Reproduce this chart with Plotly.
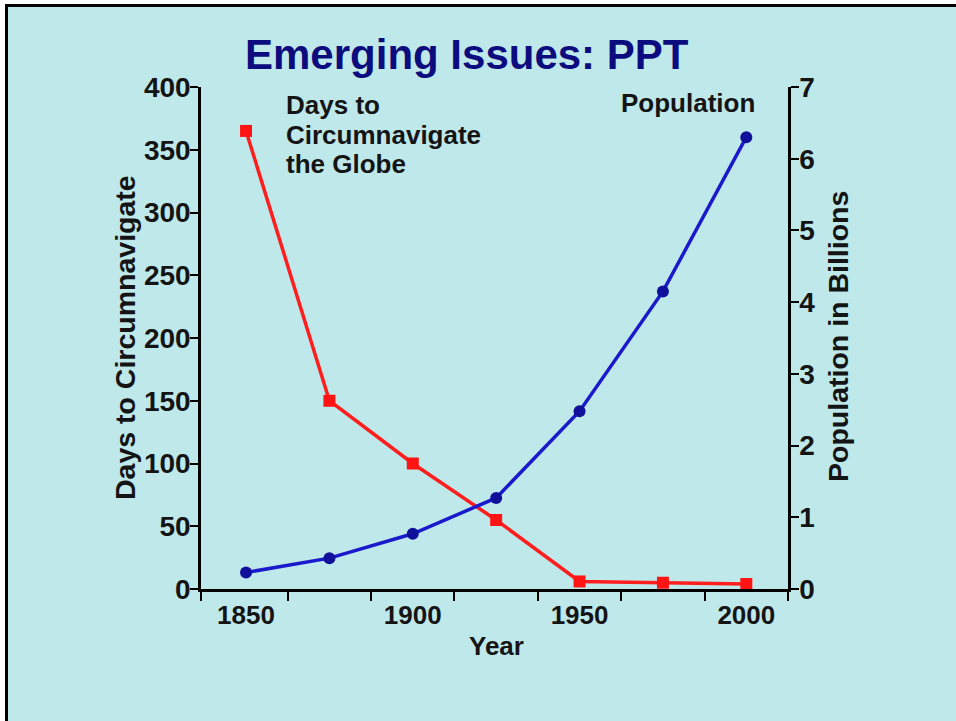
import plotly.graph_objects as go

# ---- data ----
years = [1850, 1875, 1900, 1925, 1950, 1975, 2000]
days_to_circumnavigate = [365, 150, 100, 55, 6, 5, 4]
population_billions = [0.23, 0.43, 0.77, 1.27, 2.48, 4.15, 6.30]
x_label_years = [1850, 1900, 1950, 2000]
x_tick_marks = [1836.5, 1862.5, 1887.5, 1912.5, 1937.5, 1962.5, 1987.5, 2012.5]
days_ticks = [0, 50, 100, 150, 200, 250, 300, 350, 400]
pop_ticks = [0, 1, 2, 3, 4, 5, 6, 7]

FONT = "Liberation Sans, Arial, Helvetica, sans-serif"
INK = "#141414"
BG = "#bfe8ea"

W, H = 956, 721
L, R, T, B = 201, 788, 87, 589  # plot area in pixels


def xp(px):
    return (px - L) / (R - L)


def yp(py):
    return (B - py) / (B - T)


fig = go.Figure()
fig.add_trace(go.Scatter(
    x=years, y=days_to_circumnavigate, mode="lines+markers",
    line=dict(color="#ff1e1e", width=3.5),
    marker=dict(symbol="square", size=12, color="#ff1414"),
    yaxis="y", showlegend=False, cliponaxis=False,
))
fig.add_trace(go.Scatter(
    x=years, y=population_billions, mode="lines+markers",
    line=dict(color="#1a1acc", width=3.5),
    marker=dict(symbol="circle", size=12, color="#10109a"),
    yaxis="y2", showlegend=False, cliponaxis=False,
))

axis_common = dict(showgrid=False, zeroline=False, showline=True,
                   linecolor="black", linewidth=2.5)

fig.update_layout(
    width=W, height=H,
    margin=dict(l=L, r=W - R, t=T, b=H - B, pad=0),
    paper_bgcolor="white",
    plot_bgcolor="rgba(0,0,0,0)",
    font=dict(family=FONT, color=INK),
    xaxis=dict(
        **axis_common,
        range=[1836.5, 2012.5],
        tickmode="array", tickvals=x_label_years,
        ticktext=[str(v) for v in x_label_years],
        ticks="", ticklabelstandoff=1,
        tickfont=dict(size=26, weight="bold", color=INK, family=FONT),
        minor=dict(tickmode="array", tickvals=x_tick_marks, ticks="outside",
                   ticklen=9, tickwidth=2, tickcolor="black", showgrid=False),
    ),
    yaxis=dict(
        **axis_common,
        range=[0, 400], tickmode="array", tickvals=days_ticks,
        ticks="outside", ticklen=8, tickwidth=2, tickcolor="black",
        ticklabelstandoff=-6,
        tickfont=dict(size=28, weight="bold", color=INK, family=FONT),
    ),
    yaxis2=dict(
        **axis_common,
        range=[0, 7], tickmode="array", tickvals=pop_ticks,
        overlaying="y", side="right",
        ticks="outside", ticklen=8, tickwidth=2, tickcolor="black",
        ticklabelstandoff=-5,
        tickfont=dict(size=28, weight="bold", color=INK, family=FONT),
    ),
    shapes=[dict(
        type="rect", xref="paper", yref="paper", layer="below",
        x0=xp(6.5), x1=xp(970), y0=yp(735), y1=yp(5.5),
        fillcolor=BG, line=dict(color="black", width=3),
    )],
)

ann = []
ann.append(dict(text="Emerging Issues: PPT", x=xp(466.5), y=yp(54),
                font=dict(size=42, weight="bold", color="#0c0c7e", family=FONT)))
for txt, py in [("Days to", 105), ("Circumnavigate", 134.5), ("the Globe", 164)]:
    ann.append(dict(text=txt, x=xp(284), y=yp(py), xanchor="left",
                    font=dict(size=26, weight="bold", color=INK, family=FONT)))
ann.append(dict(text="Population", x=xp(757), y=yp(103), xanchor="right",
                font=dict(size=26, weight="bold", color=INK, family=FONT)))
ann.append(dict(text="Days to Circumnavigate", x=xp(125), y=yp(338), textangle=-90,
                font=dict(size=28.5, weight="bold", color=INK, family=FONT)))
ann.append(dict(text="Population in Billions", x=xp(838), y=yp(337), textangle=-90,
                font=dict(size=28.5, weight="bold", color=INK, family=FONT)))
ann.append(dict(text="Year", x=xp(497), y=yp(646),
                font=dict(size=26, weight="bold", color=INK, family=FONT)))
for a in ann:
    a.update(xref="paper", yref="paper", showarrow=False)
    a.setdefault("xanchor", "center")
    a.setdefault("yanchor", "middle")
fig.update_layout(annotations=ann)

fig.write_html(
    "out.html",
    config={"displayModeBar": False},
    post_script="document.body.style.margin='0';document.body.style.overflow='hidden';",
)
